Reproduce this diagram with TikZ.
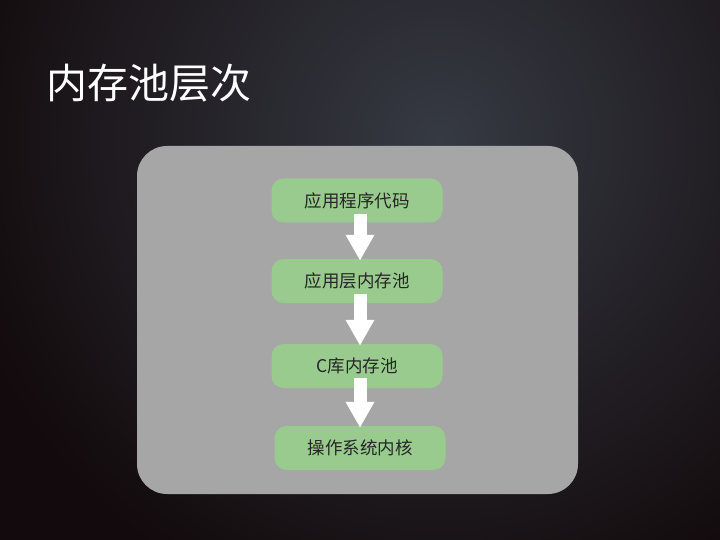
\documentclass[tikz,border=0pt]{standalone}
\usepackage{fontspec}
\setmainfont{Noto Sans CJK SC}
\newfontfamily\cjk{Noto Sans CJK SC}
\usetikzlibrary{arrows.meta}
\definecolor{bgdark}{HTML}{120A0C}
\definecolor{bglight}{HTML}{363A43}
\definecolor{panelgray}{HTML}{A6A6A6}
\definecolor{layergreen}{HTML}{99CB8F}
\tikzset{
  layer/.style={fill=layergreen, rounded corners=12pt, minimum height=44pt,
    text=black!85, font=\cjk\fontsize{17.5pt}{20pt}\selectfont, inner sep=0pt},
  downarrow/.style={white, line width=13pt,
    -{Triangle[width=27pt,length=26pt]}, shorten <=0pt}
}
\begin{document}
\begin{tikzpicture}[x=1pt,y=-1pt]
%background
\useasboundingbox (0,0) rectangle (720,540);
\fill[bgdark] (0,0) rectangle (720,540);
\begin{scope}
\clip (0,0) rectangle (720,540);
\shade[inner color=bglight, outer color=bgdark] (440,140) circle (500);
\end{scope}
%title
\node[anchor=west, text=white, font=\cjk\fontsize{41pt}{44pt}\selectfont, inner sep=0pt] (title) at (46,83) {内存池层次};
%panel
\fill[panelgray, rounded corners=30pt] (137,146) rectangle (578,494);
%layers
\node[layer, minimum width=171pt] (app) at (357,200.5) {应用程序代码};
\node[layer, minimum width=171pt] (apppool) at (357,281) {应用层内存池};
\node[layer, minimum width=171pt] (cpool) at (357,366) {C库内存池};
\node[layer, minimum width=171pt] (kernel) at (360,448) {操作系统内核};
%arrows
\draw[downarrow] ([xshift=3pt,yshift=9pt]app.south) -- ([xshift=3pt,yshift=-2pt]apppool.north);
\draw[downarrow] ([xshift=3pt,yshift=9pt]apppool.south) -- ([xshift=3pt,yshift=-2pt]cpool.north);
\draw[downarrow] ([xshift=3pt,yshift=10pt]cpool.south) -- ([yshift=-2pt]kernel.north);
\end{tikzpicture}
\end{document}
